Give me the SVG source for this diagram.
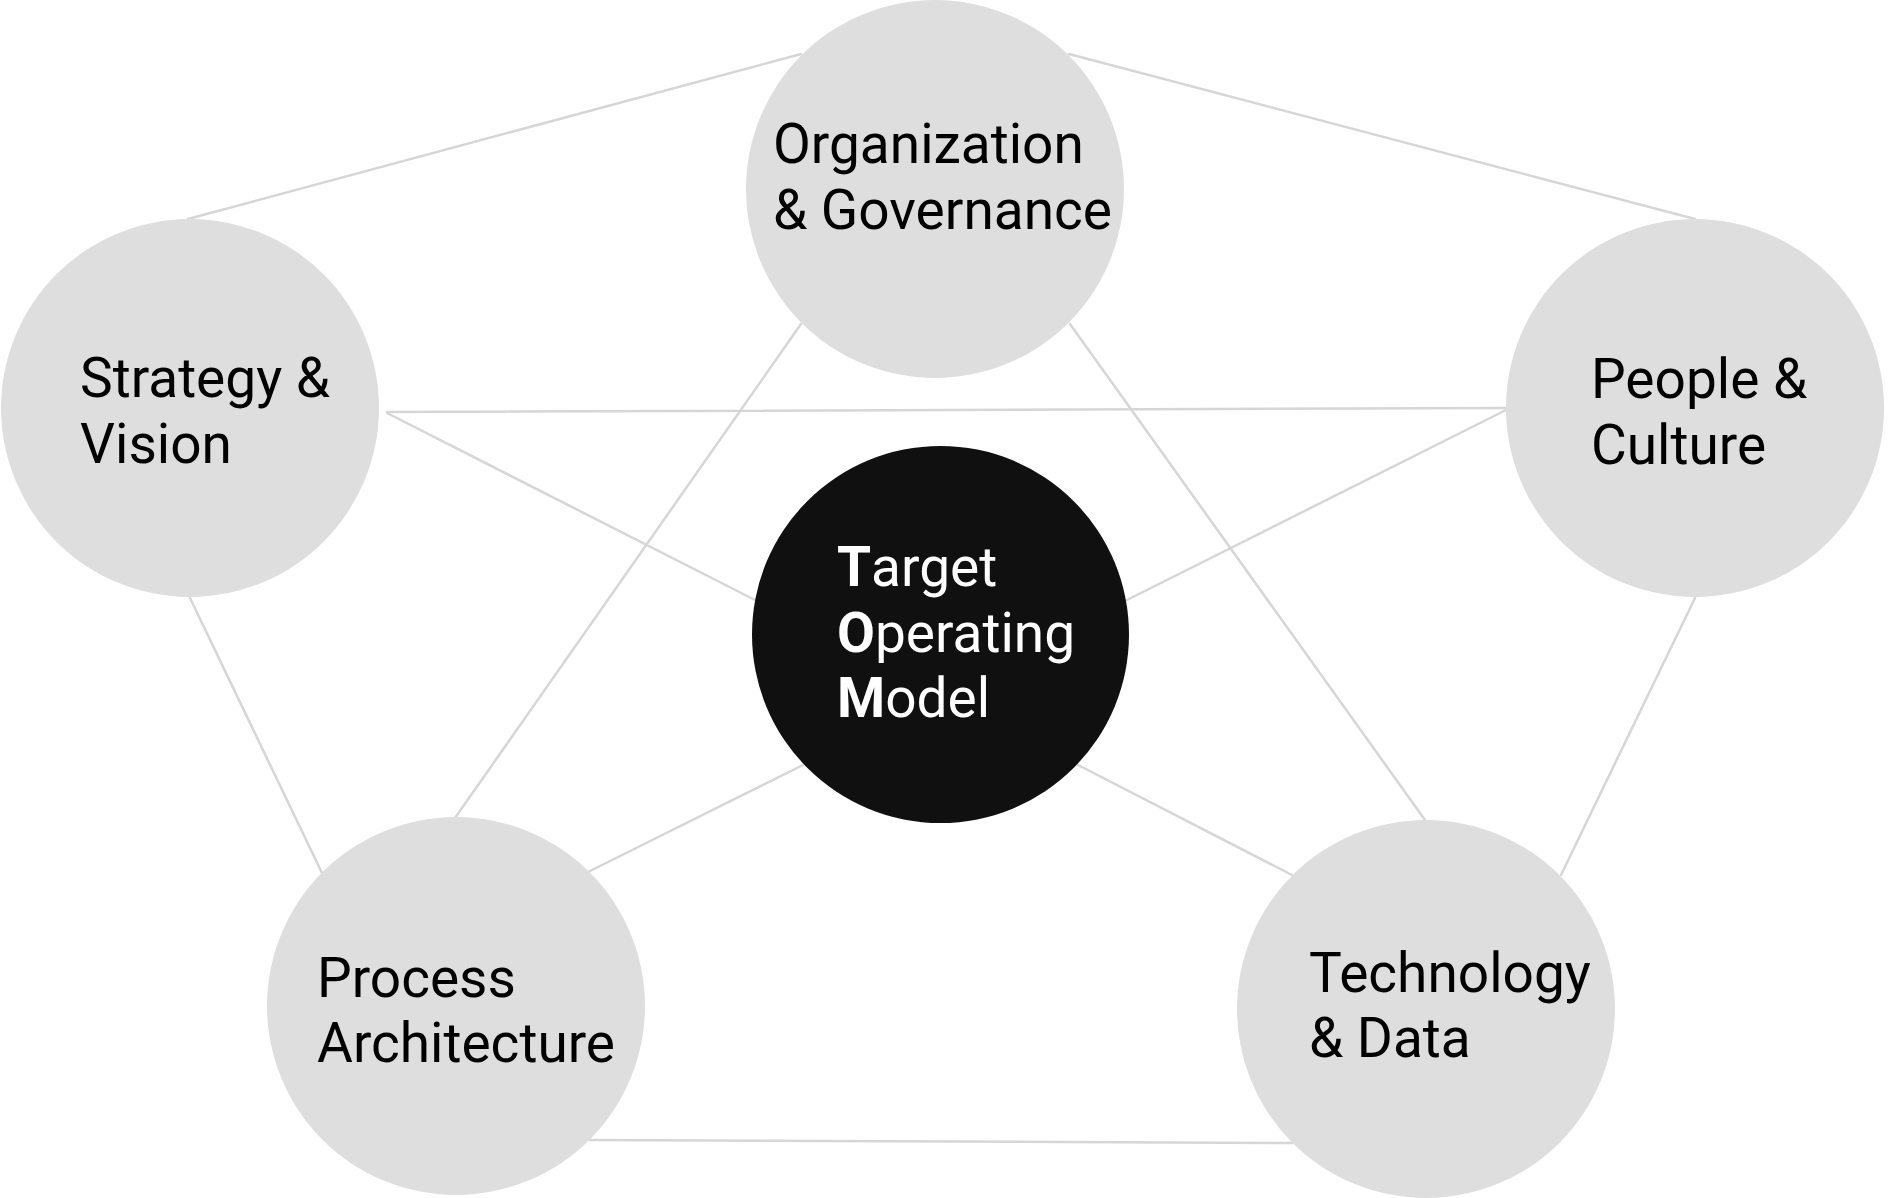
<svg xmlns="http://www.w3.org/2000/svg" width="1898" height="1198" viewBox="0 0 1898 1198">
<style>
.edge{stroke:#d6d6d6;stroke-width:2.5;fill:none;stroke-linecap:round}
.node{fill:#dedede}
.core{fill:#101010}
.lbl{font-family:Roboto,"Liberation Sans",sans-serif;font-size:55px;fill:#000}
.core-lbl{font-family:Roboto,"Liberation Sans",sans-serif;font-size:55px;fill:#fff}
.b{font-weight:bold}
</style>
<rect width="1898" height="1198" fill="#fff"/>
<g id="connectors">
<line class="edge" x1="801" y1="54" x2="188" y2="219"/>
<line class="edge" x1="1069" y1="54" x2="1695" y2="219"/>
<line class="edge" x1="801" y1="324" x2="455" y2="818"/>
<line class="edge" x1="1070" y1="324" x2="1425" y2="820"/>
<line class="edge" x1="387" y1="412" x2="1506" y2="408"/>
<line class="edge" x1="387" y1="413" x2="755" y2="600"/>
<line class="edge" x1="1506" y1="410" x2="1127" y2="600"/>
<line class="edge" x1="803" y1="765" x2="588" y2="872"/>
<line class="edge" x1="1078" y1="765" x2="1292" y2="875"/>
<line class="edge" x1="190" y1="598" x2="322" y2="873"/>
<line class="edge" x1="1695" y1="598" x2="1561" y2="875"/>
<line class="edge" x1="590" y1="1140" x2="1292" y2="1143"/>
</g>
<g id="node-org">
<circle class="node" cx="935" cy="189" r="189"/>
<text class="lbl" x="773" y="163">Organization</text>
<text class="lbl" x="773" y="229">&amp; Governance</text>
</g>
<g id="node-strategy">
<circle class="node" cx="190" cy="408" r="189"/>
<text class="lbl" x="80" y="397">Strategy &amp;</text>
<text class="lbl" x="80" y="463">Vision</text>
</g>
<g id="node-people">
<circle class="node" cx="1695" cy="408" r="189"/>
<text class="lbl" x="1591" y="398">People &amp;</text>
<text class="lbl" x="1591" y="464">Culture</text>
</g>
<g id="node-process">
<circle class="node" cx="456" cy="1006" r="189"/>
<text class="lbl" x="317" y="997">Process</text>
<text class="lbl" x="317" y="1062">Architecture</text>
</g>
<g id="node-tech">
<circle class="node" cx="1426" cy="1009" r="189"/>
<text class="lbl" x="1309" y="992">Technology</text>
<text class="lbl" x="1309" y="1057">&amp; Data</text>
</g>
<g id="node-tom">
<circle class="core" cx="940.5" cy="634.5" r="188.5"/>
<text class="core-lbl" x="837" y="586"><tspan class="b">T</tspan>arget</text>
<text class="core-lbl" x="837" y="652"><tspan class="b">O</tspan>perating</text>
<text class="core-lbl" x="837" y="717"><tspan class="b">M</tspan>odel</text>
</g>
</svg>
